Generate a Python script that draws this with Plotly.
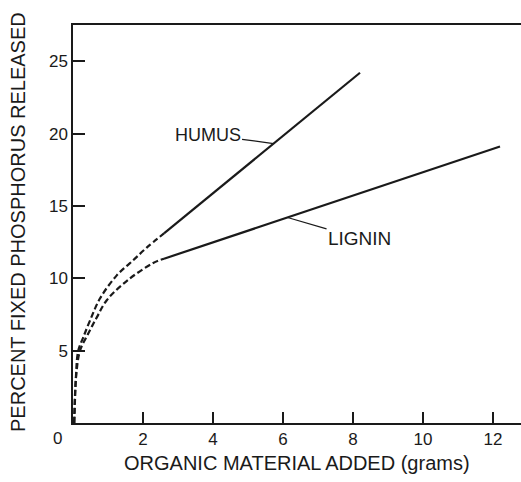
import plotly.graph_objects as go

# Data
humus_x = [0.04, 0.08, 0.15, 0.29, 0.49, 0.77, 1.25, 1.7, 2.1, 2.6, 8.2]
humus_y = [0.0, 3.0, 5.0, 5.9, 7.1, 8.6, 10.2, 11.2, 12.1, 13.1, 24.2]
lignin_x = [0.03, 0.06, 0.1, 0.2, 0.44, 0.68, 0.97, 1.58, 2.29, 2.6, 12.2]
lignin_y = [0.0, 2.1, 3.5, 5.0, 6.2, 7.3, 8.5, 9.9, 11.05, 11.35, 19.1]
x_ticks = [2, 4, 6, 8, 10, 12]
y_ticks = [5, 10, 15, 20, 25]
x_title = "ORGANIC MATERIAL ADDED (grams)"
y_title = "PERCENT FIXED PHOSPHORUS RELEASED"

SPLIT = 2.6  # where the dashed (curved) part ends
FONT = "Liberation Sans"
INK = "#1a1a1a"

def part(xs, ys, curved):
    px, py = [], []
    for a, b in zip(xs, ys):
        if (a <= SPLIT) if curved else (a >= SPLIT):
            px.append(a); py.append(b)
    return px, py

fig = go.Figure()
for xs, ys, name in [(humus_x, humus_y, "HUMUS"), (lignin_x, lignin_y, "LIGNIN")]:
    cx, cy = part(xs, ys, True)
    lx, ly = part(xs, ys, False)
    fig.add_trace(go.Scatter(x=cx, y=cy, mode="lines", name=name,
                             line=dict(color=INK, width=2.2, dash="6px,3px", shape="spline"),
                             showlegend=False, hoverinfo="skip"))
    fig.add_trace(go.Scatter(x=lx, y=ly, mode="lines", name=name,
                             line=dict(color=INK, width=2.2),
                             showlegend=False, hoverinfo="skip"))

# line labels with leaders
fig.add_annotation(x=5.73, y=humus_y[-2] + (5.73 - humus_x[-2]) * (humus_y[-1] - humus_y[-2]) / (humus_x[-1] - humus_x[-2]),
                   text="HUMUS", showarrow=True, arrowhead=0, arrowwidth=1.2, arrowcolor=INK,
                   ax=-66, ay=-9, font=dict(family=FONT, size=18, color=INK))
fig.add_annotation(x=6.13, y=lignin_y[-2] + (6.13 - lignin_x[-2]) * (lignin_y[-1] - lignin_y[-2]) / (lignin_x[-1] - lignin_x[-2]),
                   text="LIGNIN", showarrow=True, arrowhead=0, arrowwidth=1.2, arrowcolor=INK,
                   ax=72, ay=21, font=dict(family=FONT, size=19, color=INK))

# axis titles and shared origin label
fig.add_annotation(xref="paper", yref="paper", x=0.499, y=-0.1005, text=x_title,
                   showarrow=False, xanchor="center", yanchor="middle",
                   font=dict(family=FONT, size=20, color=INK))
fig.add_annotation(xref="paper", yref="paper", x=-0.1228, y=0.505, text=y_title,
                   showarrow=False, xanchor="center", yanchor="middle", textangle=-90,
                   font=dict(family=FONT, size=20, color=INK))
fig.add_annotation(xref="paper", yref="paper", x=-0.0335, y=-0.040, text="0",
                   showarrow=False, xanchor="center", yanchor="middle",
                   font=dict(family=FONT, size=17, color=INK))

fig.update_xaxes(range=[0, 12.8], tickvals=x_ticks, ticktext=[str(v) for v in x_ticks],
                 ticks="inside", ticklen=11, tickwidth=1.5, tickcolor=INK,
                 showline=True, linecolor=INK, linewidth=1.5, mirror=True,
                 showgrid=False, zeroline=False,
                 tickfont=dict(family=FONT, size=17, color=INK))
fig.update_yaxes(range=[0, 27.5], tickvals=y_ticks, ticktext=[str(v) for v in y_ticks],
                 ticks="inside", ticklen=12, tickwidth=1.5, tickcolor=INK,
                 showline=True, linecolor=INK, linewidth=1.5, mirror=False,
                 showgrid=False, zeroline=False,
                 tickfont=dict(family=FONT, size=17, color=INK))

fig.update_layout(width=521, height=482, margin=dict(l=73, r=0, t=25, b=59),
                  paper_bgcolor="white", plot_bgcolor="white", showlegend=False)

fig.write_html("out.html")
